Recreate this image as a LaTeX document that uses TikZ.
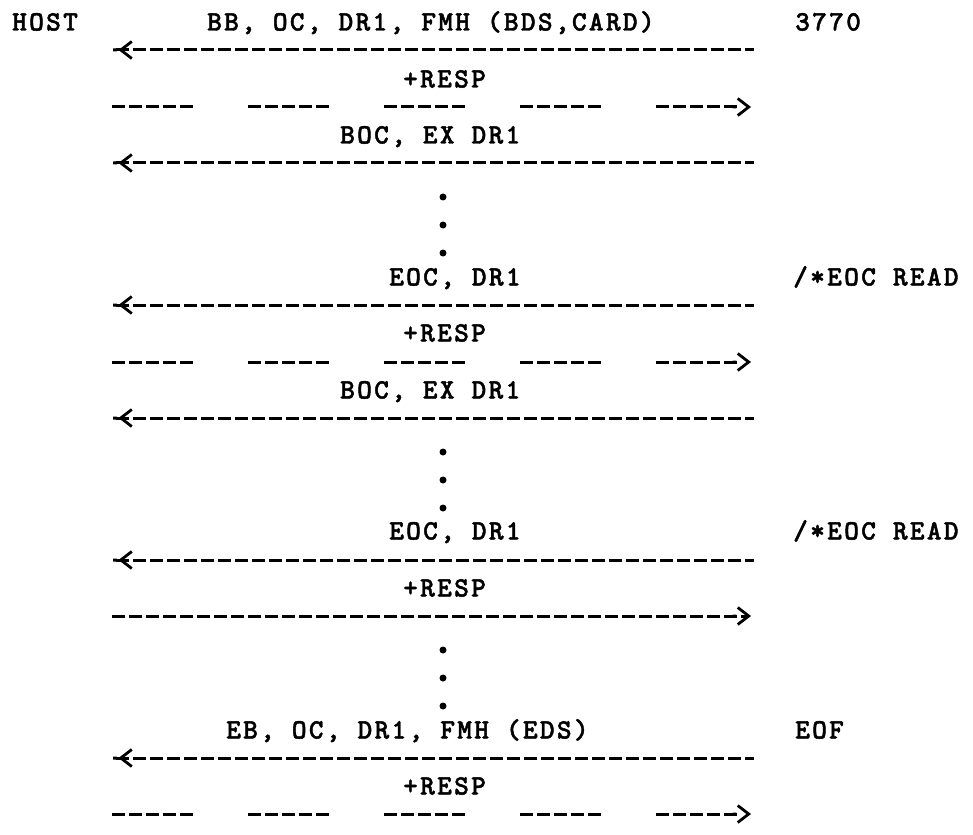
\documentclass[tikz,border=0pt]{standalone}
\usepackage{fontspec}
\newfontfamily\typew{lmmonolt10-bold.otf}[LetterSpace=8.2, FakeBold=1.5]
\usetikzlibrary{arrows.meta}

\begin{document}
\begin{tikzpicture}[x=1pt, y=-1pt,
  txt/.style={anchor=base west, inner sep=0pt, font=\typew\fontsize{28}{30}\selectfont},
  msg/.style={line width=3pt, dash pattern=on 13pt off 4pt},
  gapmsg/.style={line width=3pt, dash pattern=on 13pt off 4pt on 13pt off 4pt on 13pt off 4pt on 13pt off 4pt on 13pt off 55pt},
  chevl/.tip={Straight Barb[length=11pt, width=17pt, line width=2.8pt, sep=4pt] Butt Cap[]},
  chevr/.tip={Butt Cap[] Straight Barb[length=11pt, width=17pt, line width=2.8pt, sep=4pt]}]
\useasboundingbox (0,0) rectangle (973,834);
\fill[white] (0,0) rectangle (973,834);

% header line
\node[txt] (host) at (12,30.5) {HOST};
\node[txt] (bb) at (207,30.5) {BB, OC, DR1, FMH (BDS,CARD)};
\node[txt] (term) at (795,30.5) {3770};

% ends of the message lines, host side (h) and 3770 side (t)
\coordinate (h1) at (113,50);   \coordinate (t1) at (754,50);
\coordinate (h2) at (112,107);  \coordinate (t2) at (755,107);
\coordinate (h3) at (113,163);  \coordinate (t3) at (754,163);
\coordinate (h4) at (113,305);  \coordinate (t4) at (754,305);
\coordinate (h5) at (112,362);  \coordinate (t5) at (755,362);
\coordinate (h6) at (113,418);  \coordinate (t6) at (754,418);
\coordinate (h7) at (113,560);  \coordinate (t7) at (754,560);
\coordinate (h8) at (112,616);  \coordinate (t8) at (755,616);
\coordinate (h9) at (113,758);  \coordinate (t9) at (754,758);
\coordinate (h10) at (112,814); \coordinate (t10) at (755,814);

\draw[msg, chevl-] (h1) -- (t1);
\node[txt] (resp1) at (403,87.5) {+RESP};
\draw[gapmsg, -chevr] (h2) -- (t2);
\node[txt] (boc1) at (340,143.5) {BOC, EX DR1};
\draw[msg, chevl-] (h3) -- (t3);

\node[txt] (eoc1) at (389,285.5) {EOC, DR1};
\node[txt] (rd1) at (793,285.5) {/*EOC READ};
\draw[msg, chevl-] (h4) -- (t4);
\node[txt] (resp2) at (403,341.5) {+RESP};
\draw[gapmsg, -chevr] (h5) -- (t5);
\node[txt] (boc2) at (340,398.5) {BOC, EX DR1};
\draw[msg, chevl-] (h6) -- (t6);

\node[txt] (eoc2) at (389,539.5) {EOC, DR1};
\node[txt] (rd2) at (793,539.5) {/*EOC READ};
\draw[msg, chevl-] (h7) -- (t7);
\node[txt] (resp3) at (403,596.5) {+RESP};
\draw[msg, -chevr] (h8) -- (t8);

\node[txt] (eb) at (226,738.5) {EB, OC, DR1, FMH (EDS)};
\node[txt] (eof) at (795,738.5) {EOF};
\draw[msg, chevl-] (h9) -- (t9);
\node[txt] (resp4) at (403,794.5) {+RESP};
\draw[gapmsg, -chevr] (h10) -- (t10);

% ellipsis dots
\foreach \yy in {197,225,253,452,480,508,650,678,706}
  \fill (443,\yy) circle (3.5pt);
\end{tikzpicture}
\end{document}
